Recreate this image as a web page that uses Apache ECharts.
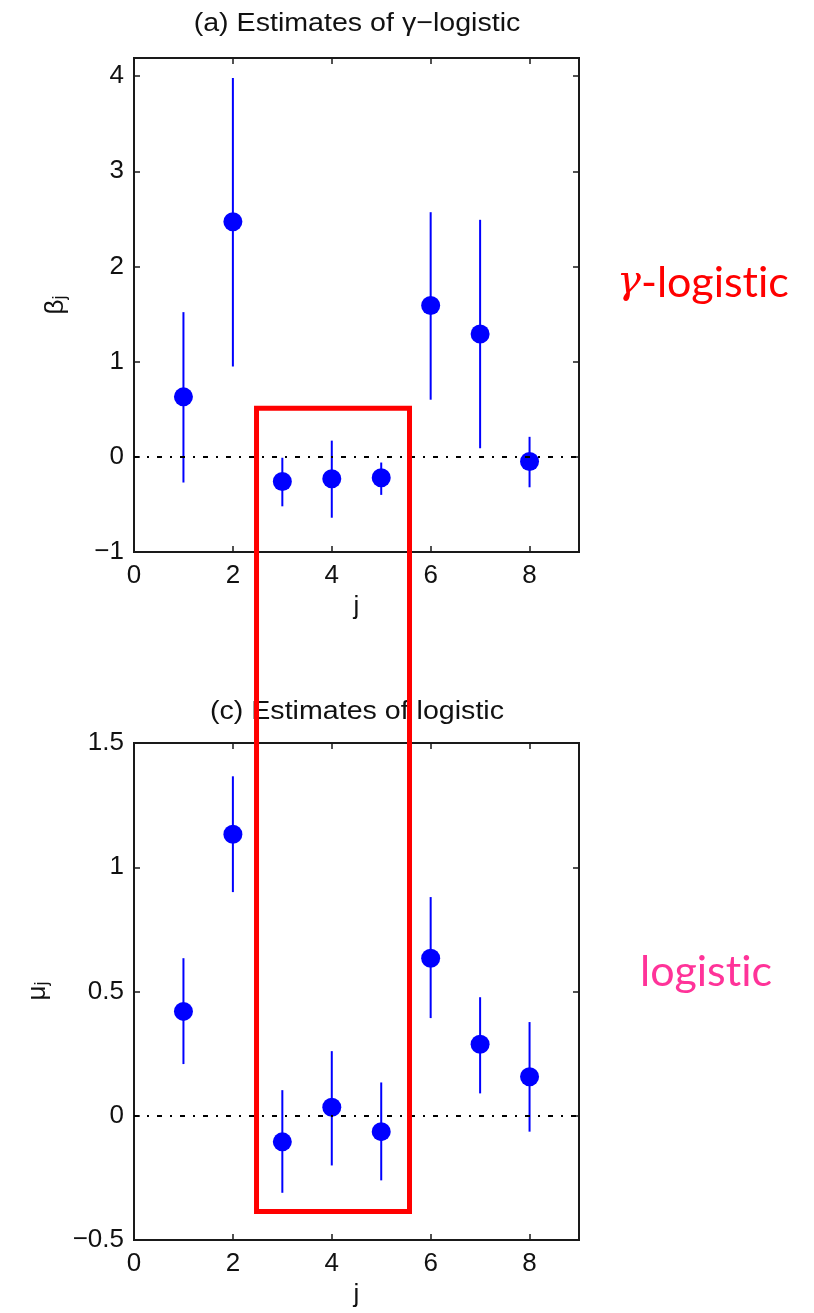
<!DOCTYPE html>
<html>
<head>
<meta charset="utf-8">
<script src="https://cdn.jsdelivr.net/npm/echarts@6/dist/echarts.min.js"></script>
<style>
  html, body { margin: 0; padding: 0; background: #ffffff; }
  #chart { width: 814px; height: 1313px; }
</style>
</head>
<body>
<div id="chart"></div>
<script>
// Coefficient index j
const jIndex = [1, 2, 3, 4, 5, 6, 7, 8];

// (a) gamma-logistic estimates with interval bounds
const gammaEst  = [0.63, 2.47, -0.26, -0.23, -0.22, 1.59, 1.29, -0.05];
const gammaLow  = [-0.27, 0.95, -0.52, -0.64, -0.40, 0.60, 0.09, -0.32];
const gammaHigh = [1.52, 3.98, -0.01, 0.17, -0.06, 2.57, 2.49, 0.21];

// (c) logistic estimates with interval bounds
const logitEst  = [0.42, 1.133, -0.105, 0.034, -0.064, 0.634, 0.288, 0.157];
const logitLow  = [0.208, 0.90, -0.31, -0.20, -0.26, 0.393, 0.09, -0.064];
const logitHigh = [0.634, 1.366, 0.103, 0.26, 0.134, 0.88, 0.477, 0.377];

// Tick values
const xTicks     = [0, 2, 4, 6, 8];
const gammaTicks = [-1, 0, 1, 2, 3, 4];
const logitTicks = [-0.5, 0, 0.5, 1, 1.5];

// Highlighted region j = 3..5, spanning both panels (data units)
const highlightJ = [2.478, 5.572];
const highlightTopGamma = 0.509;
const highlightBottomLogit = -0.385;

const BLUE = '#0000ff';
const AXIS = '#1a1a1a';
const FONT = 'Liberation Sans, Arial, sans-serif';

const chart = echarts.init(document.getElementById('chart'), null, { renderer: 'canvas' });

const fmtMinus = v => String(v).replace('-', '\u2212');

function xAxisPair(gridIndex) {
  const base = {
    gridIndex, type: 'value', min: 0, max: 9,
    axisLine: { show: true, onZero: false, lineStyle: { color: AXIS, width: 2 } },
    axisTick: { show: true, inside: true, length: 6, customValues: xTicks, lineStyle: { color: AXIS, width: 1.5 } },
    splitLine: { show: false }
  };
  return [
    Object.assign({}, base, {
      position: 'bottom',
      axisLabel: { customValues: xTicks, fontSize: 26, color: '#111', fontFamily: FONT, margin: 11 },
      name: 'j', nameLocation: 'middle', nameGap: 42,
      nameTextStyle: { fontSize: 26, color: '#111', fontFamily: FONT }
    }),
    Object.assign({}, base, { position: 'top', axisLabel: { show: false } })
  ];
}

function yAxisPair(gridIndex, min, max, ticks) {
  const base = {
    gridIndex, type: 'value', min, max,
    axisLine: { show: true, onZero: false, lineStyle: { color: AXIS, width: 2 } },
    axisTick: { show: true, inside: true, length: 6, customValues: ticks, lineStyle: { color: AXIS, width: 1.5 } },
    splitLine: { show: false }
  };
  return [
    Object.assign({}, base, {
      position: 'left',
      axisLabel: { customValues: ticks, fontSize: 26, color: '#111', fontFamily: FONT, margin: 10, formatter: fmtMinus }
    }),
    Object.assign({}, base, { position: 'right', axisLabel: { show: false } })
  ];
}

function errorBars(xi, yi, low, high) {
  return {
    type: 'custom', xAxisIndex: xi, yAxisIndex: yi, silent: true, z: 2,
    data: jIndex.map((j, i) => [j, low[i], high[i]]),
    encode: { x: 0, y: [1, 2] },
    renderItem(params, api) {
      const a = api.coord([api.value(0), api.value(1)]);
      const b = api.coord([api.value(0), api.value(2)]);
      return { type: 'line', shape: { x1: a[0], y1: a[1], x2: b[0], y2: b[1] },
               style: { stroke: BLUE, lineWidth: 2 } };
    }
  };
}

function points(xi, yi, est) {
  return {
    type: 'scatter', xAxisIndex: xi, yAxisIndex: yi, silent: true, z: 3,
    data: jIndex.map((j, i) => [j, est[i]]),
    symbol: 'circle', symbolSize: 19,
    itemStyle: { color: BLUE, opacity: 1 }
  };
}

function zeroLine(xi, yi) {
  return {
    type: 'line', xAxisIndex: xi, yAxisIndex: yi, data: [], silent: true, z: 1,
    markLine: {
      silent: true, symbol: 'none', label: { show: false },
      lineStyle: { color: '#000', width: 2, type: [5, 8, 2, 8] },
      data: [{ yAxis: 0 }]
    }
  };
}

const baseGraphics = [
  {
    type: 'text', x: 357, y: 24, scaleX: 1.1, z: 10,
    style: { text: '(a) Estimates of \u03b3\u2212logistic', font: '26px ' + FONT, fill: '#111',
             textAlign: 'center', textVerticalAlign: 'middle' }
  },
  {
    type: 'text', x: 357, y: 712, scaleX: 1.1, z: 10,
    style: { text: '(c) Estimates of logistic', font: '26px ' + FONT, fill: '#111',
             textAlign: 'center', textVerticalAlign: 'middle' }
  },
  {
    type: 'text', x: 56, y: 305, rotation: Math.PI / 2, z: 10,
    style: {
      text: '{b|\u03b2}{s|j}', textAlign: 'center', textVerticalAlign: 'middle',
      rich: {
        b: { fontSize: 26, fontFamily: FONT, fill: '#111', lineHeight: 26, verticalAlign: 'top' },
        s: { fontSize: 18, fontFamily: FONT, fill: '#111', lineHeight: 18, verticalAlign: 'bottom' }
      }
    }
  },
  {
    type: 'text', x: 38, y: 991, rotation: Math.PI / 2, z: 10,
    style: {
      text: '{b|\u03bc}{s|j}', textAlign: 'center', textVerticalAlign: 'middle',
      rich: {
        b: { fontSize: 26, fontFamily: FONT, fill: '#111', lineHeight: 26, verticalAlign: 'top' },
        s: { fontSize: 18, fontFamily: FONT, fill: '#111', lineHeight: 18, verticalAlign: 'bottom' }
      }
    }
  },
  {
    // "t" and "ic" in separate runs so the t-i pair is drawn without a ligature
    type: 'text', x: 617, y: 283, z: 10,
    style: {
      text: '{g|\u03b3}{t|-logist}{t|ic}', textVerticalAlign: 'middle',
      rich: {
        g: { fontSize: 40, fontFamily: 'DejaVu Serif, serif', fontStyle: 'italic', fill: '#ff0000' },
        t: { fontSize: 43, fontFamily: 'Lato, sans-serif', fill: '#ff0000' }
      }
    }
  },
  {
    type: 'text', x: 640, y: 972, z: 10,
    style: {
      text: '{p|logist}{p|ic}', textVerticalAlign: 'middle',
      rich: { p: { fontSize: 43, fontFamily: 'Lato, sans-serif', fill: '#ff3399' } }
    }
  }
];

const option = {
  animation: false,
  backgroundColor: '#ffffff',
  grid: [
    { left: 134, top: 58, width: 445, height: 494, show: true, borderColor: AXIS, borderWidth: 2, backgroundColor: 'transparent' },
    { left: 134, top: 743, width: 445, height: 497, show: true, borderColor: AXIS, borderWidth: 2, backgroundColor: 'transparent' }
  ],
  xAxis: [...xAxisPair(0), ...xAxisPair(1)],
  yAxis: [...yAxisPair(0, -1, 4.19, gammaTicks), ...yAxisPair(1, -0.5, 1.5, logitTicks)],
  series: [
    zeroLine(0, 0),
    errorBars(0, 0, gammaLow, gammaHigh),
    points(0, 0, gammaEst),
    zeroLine(2, 2),
    errorBars(2, 2, logitLow, logitHigh),
    points(2, 2, logitEst)
  ],
  graphic: baseGraphics
};

chart.setOption(option);

// Frame around j = 3..5 across both panels, placed through the axes' scales
const tl = chart.convertToPixel({ xAxisIndex: 0, yAxisIndex: 0 }, [highlightJ[0], highlightTopGamma]);
const br = chart.convertToPixel({ xAxisIndex: 2, yAxisIndex: 2 }, [highlightJ[1], highlightBottomLogit]);
chart.setOption({
  graphic: baseGraphics.concat([{
    type: 'rect', z: 20,
    shape: { x: tl[0], y: tl[1], width: br[0] - tl[0], height: br[1] - tl[1] },
    style: { fill: 'none', stroke: '#ff0000', lineWidth: 5 }
  }])
});
</script>
</body>
</html>
